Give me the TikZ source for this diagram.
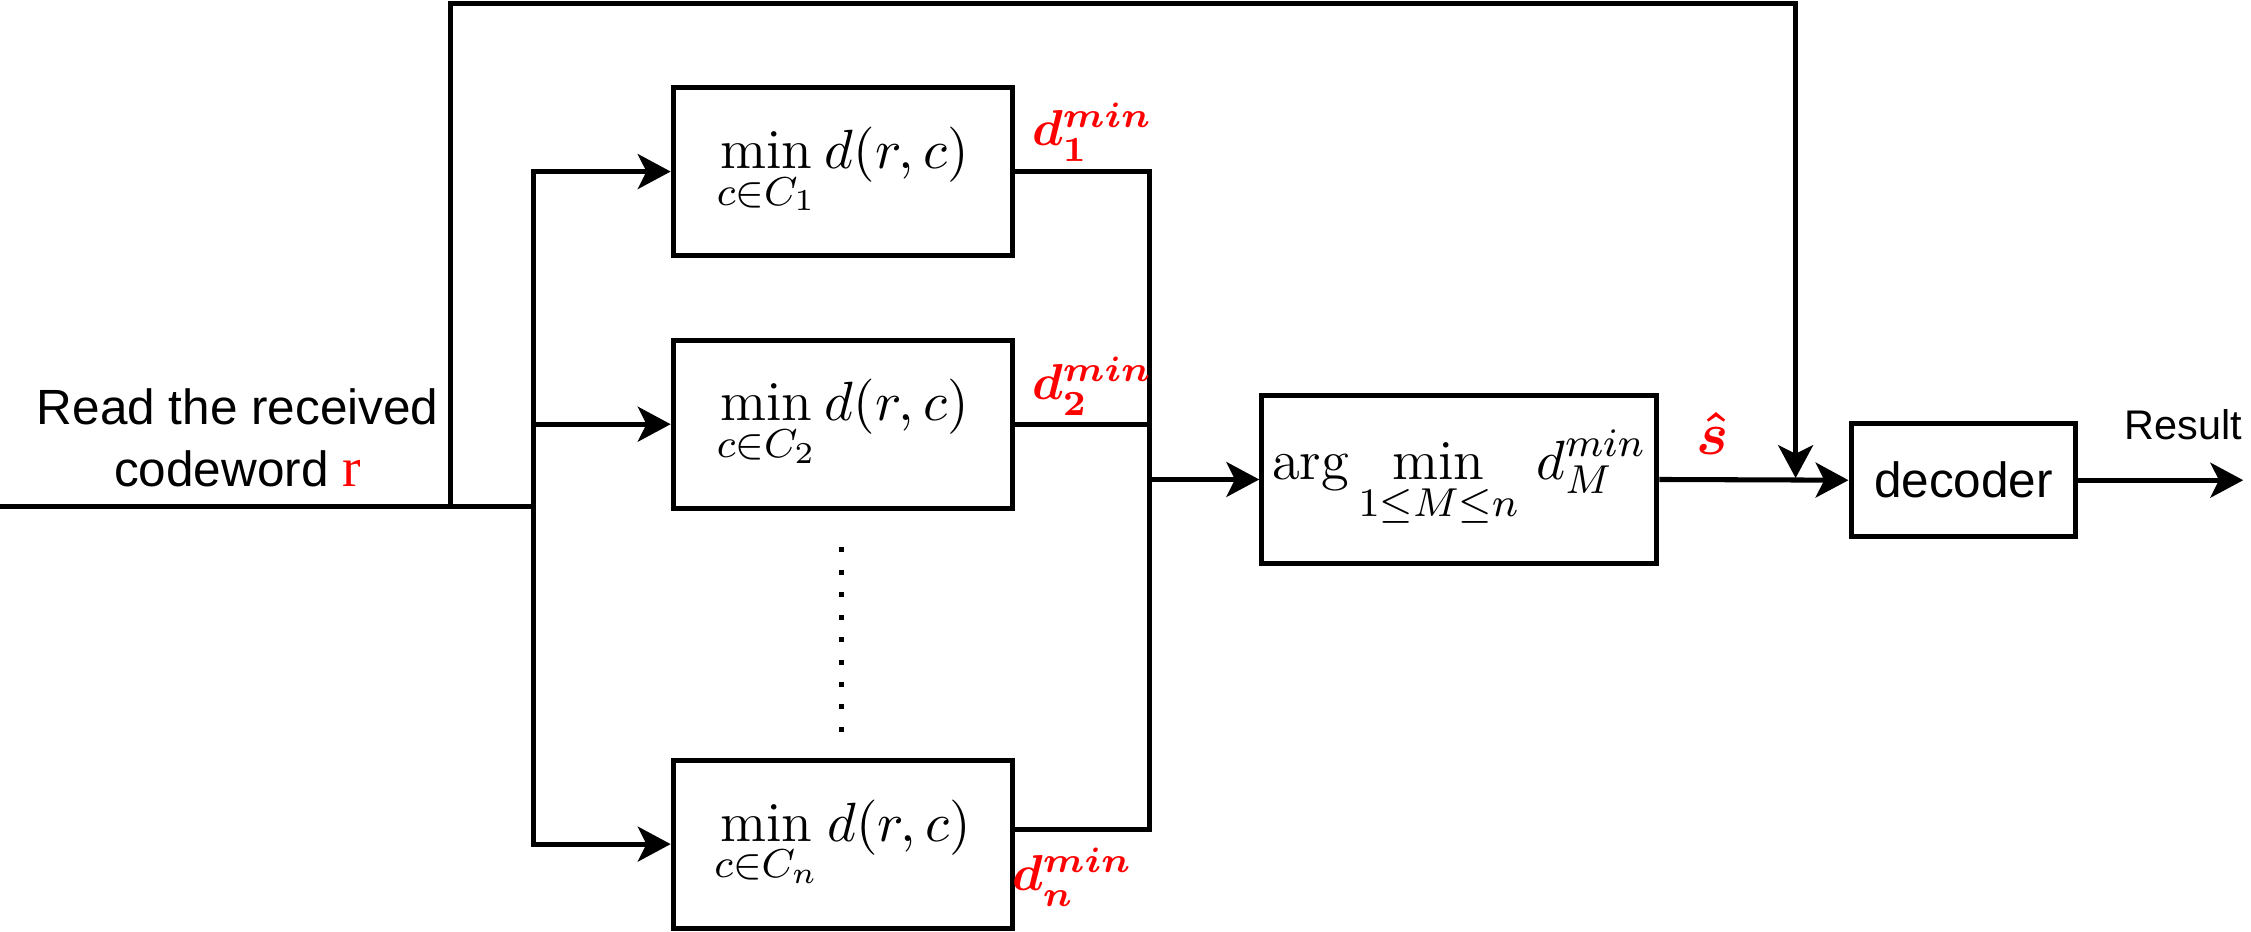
\documentclass[tikz,border=0pt]{standalone}
\usepackage{amsmath}
\usepackage{fontspec}
\newfontfamily\arialfont{Liberation Sans}
\newfontfamily\timesfont{Liberation Serif}
\usetikzlibrary{arrows.meta}
\definecolor{labelred}{RGB}{255,0,0}

\begin{document}
\begin{tikzpicture}[x=0.01cm, y=-0.01cm, line width=1pt,
  box/.style={draw, line width=1pt, minimum width=2.36cm, minimum height=1.17cm, inner sep=0pt,
              font=\fontsize{11.2pt}{13pt}\selectfont},
  arr/.style={-{Stealth[length=6.5pt,width=6.9pt,inset=1.7pt]}},
  lbl/.style={text=labelred, inner sep=0pt},
  sans/.style={font=\arialfont\fontsize{9.8pt}{12.2pt}\selectfont, inner sep=0pt},
  dotline/.style={line width=1pt, dash pattern=on 0.035cm off 0.12125cm}
]
\useasboundingbox (0,0) rectangle (1568,649);

% distance blocks, one per code
\node[box] (m1) at (587,119.5) {$\displaystyle\min_{c\in C_1} d(r,c)$};
\node[box] (m2) at (587,295.5) {$\displaystyle\min_{c\in C_2} d(r,c)$};
\node[box] (mn) at (587,588)   {$\displaystyle\min_{c\in C_n} d(r,c)$};

% selection and decoding
\node[box, minimum width=2.75cm] (am) at (1016.5,334) {$\displaystyle\arg\min_{1\le M\le n}\, d_M^{min}$};
\node[box, minimum width=1.565cm, minimum height=0.79cm, sans] (dec) at (1367.7,334.5) {decoder};

% input text
\node[sans, align=center] (rd) at (165.5,305) {Read the received\\codeword {\timesfont\fontsize{11pt}{12pt}\selectfont\color{labelred}r}};

% junction points
\coordinate (in) at (0,353);
\coordinate (split) at (313.5,353);
\coordinate (bus) at (371.5,353);
\coordinate (top) at (313.5,2.3);
\coordinate (tap) at (1250.8,333);
\coordinate (join) at (801,334);
\coordinate (mnout) at ([yshift=0.1cm]mn.east);
\coordinate (res) at (1562.6,334.5);

% input and fan-out
\draw (in) -- (bus);
\draw[arr] (bus) |- (m1.west);
\draw[arr] (bus) |- (m2.west);
\draw[arr] (bus) |- (mn.west);

% bypass of the received word to the decoder
\draw[arr] (split) -- (top) -| (tap);

% collect the minimum distances
\draw (m1.east) -- (m1.east -| join) -- (join |- mnout) -- (mnout);
\draw (m2.east) -- (m2.east -| join);
\draw[arr] (join) -- (am.west);
\draw[arr] (am.east) -- (dec.west);
\draw[arr] (dec.east) -- (res);

% omitted blocks
\draw[dotline] (586,381.25) -- (586,510);

% labels
\node[lbl] (d1) at (761,92)  {$\boldsymbol{d_1^{min}}$};
\node[lbl] (d2) at (761,269) {$\boldsymbol{d_2^{min}}$};
\node[lbl] (dn) at (747,611) {$\boldsymbol{d_n^{min}}$};
\node[lbl, font=\fontsize{12.5pt}{14pt}\selectfont] (sh) at (1193,302) {$\boldsymbol{\hat{s}}$};
\node[sans, font=\arialfont\fontsize{8.2pt}{10pt}\selectfont, anchor=base] (rl) at (1521,306.5) {Result};
\end{tikzpicture}
\end{document}
